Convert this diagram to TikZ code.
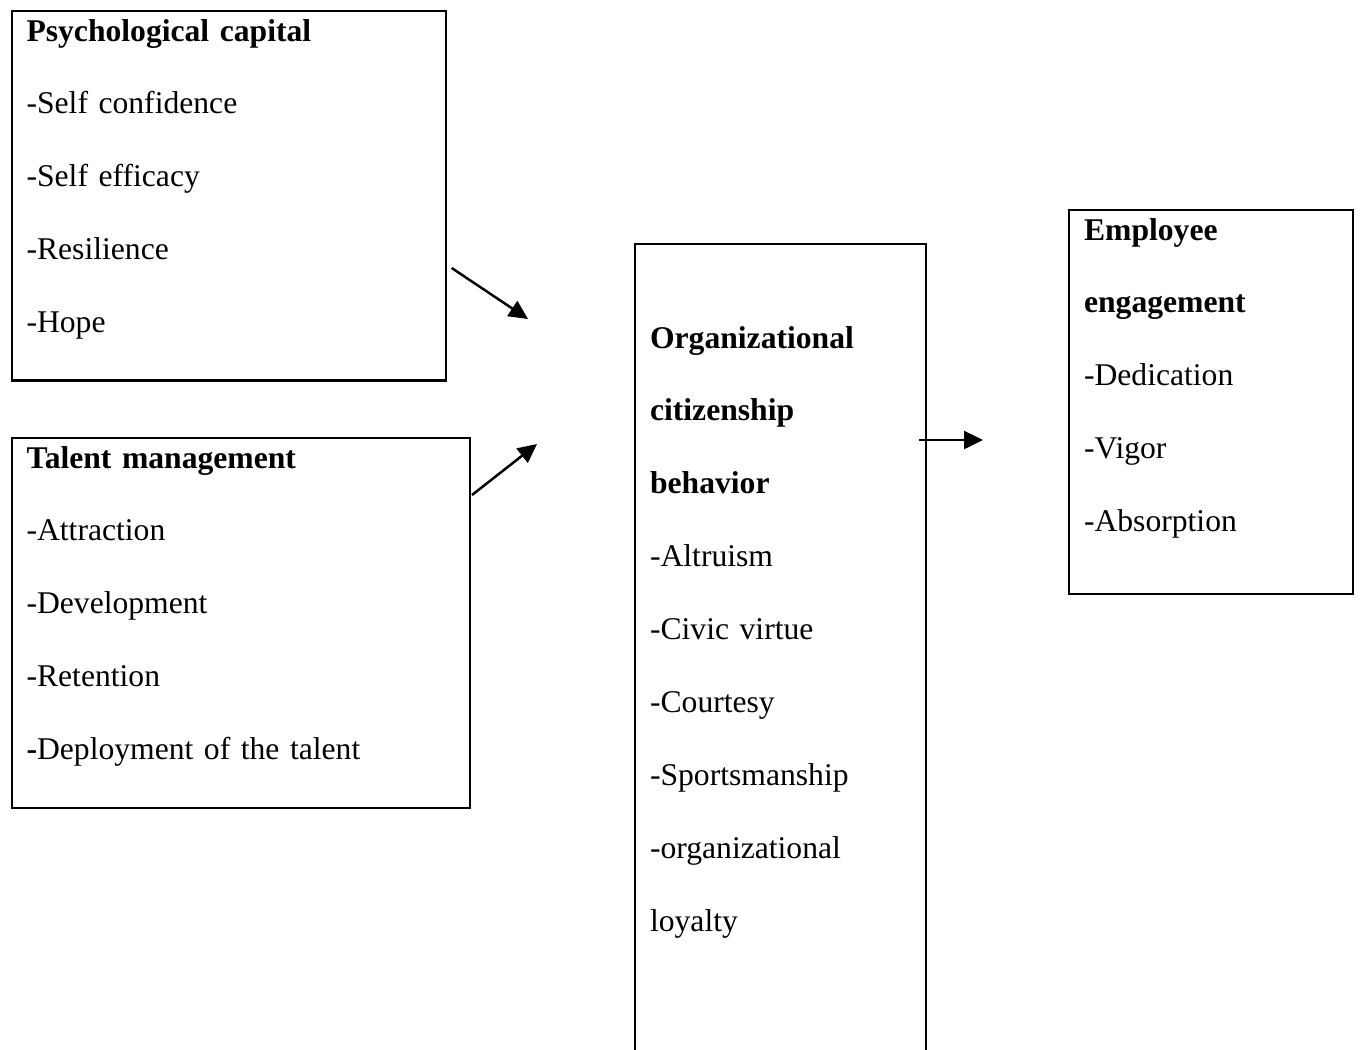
\documentclass[tikz,border=0pt]{standalone}
\usepackage{fontspec}
\setmainfont{Liberation Serif}
\usetikzlibrary{arrows.meta}

\begin{document}
\begin{tikzpicture}[
    x=0.02cm, y=-0.02cm,
    box/.style={draw, line width=1.2pt, anchor=north west, align=left,
        inner xsep=0.3cm, inner ysep=0pt, text height=0.6cm,
        font=\fontsize{18}{41.5}\selectfont},
    arrow/.style={-{Triangle[length=0.38cm, width=0.36cm]}, line width=1.4pt}
]
\useasboundingbox (0,0) rectangle (1361,1049);
\clip (0,0) rectangle (1361,1049);

\node[box, text width=8.09cm, text depth=6.79cm] (psycap) at (10.5,10) {%
    \textbf{Psychological capital}\\
    -Self confidence\\
    -Self efficacy\\
    -Resilience\\
    -Hope};

\node[box, text width=8.57cm, text depth=6.8cm] (talent) at (10.5,437) {%
    \textbf{Talent management}\\
    -Attraction\\
    -Development\\
    -Retention\\
    \textbf{-}Deployment of the talent};

\node[box, text width=5.22cm, text height=2.08cm, text depth=14.8cm] (ocb) at (634,243) {%
    \textbf{Organizational}\\
    \textbf{citizenship}\\
    \textbf{behavior}\\
    -Altruism\\
    -Civic virtue\\
    -Courtesy\\
    -Sportsmanship\\
    -organizational\\
    loyalty};

\node[box, text width=5.08cm, text depth=7.08cm] (engage) at (1068,209) {%
    \textbf{Employee}\\
    \textbf{engagement}\\
    -Dedication\\
    -Vigor\\
    -Absorption};

% free-standing arrows between the boxes
\coordinate (psyout) at (451.7,268);
\coordinate (psyin) at (528,319);
\coordinate (talout) at (472,495);
\coordinate (talin) at (537,444);
\coordinate (ocbout) at (919,440);
\coordinate (engin) at (983,440);

\draw[arrow] (psyout) -- (psyin);
\draw[arrow] (talout) -- (talin);
\draw[arrow] (ocbout) -- (engin);

\end{tikzpicture}
\end{document}
